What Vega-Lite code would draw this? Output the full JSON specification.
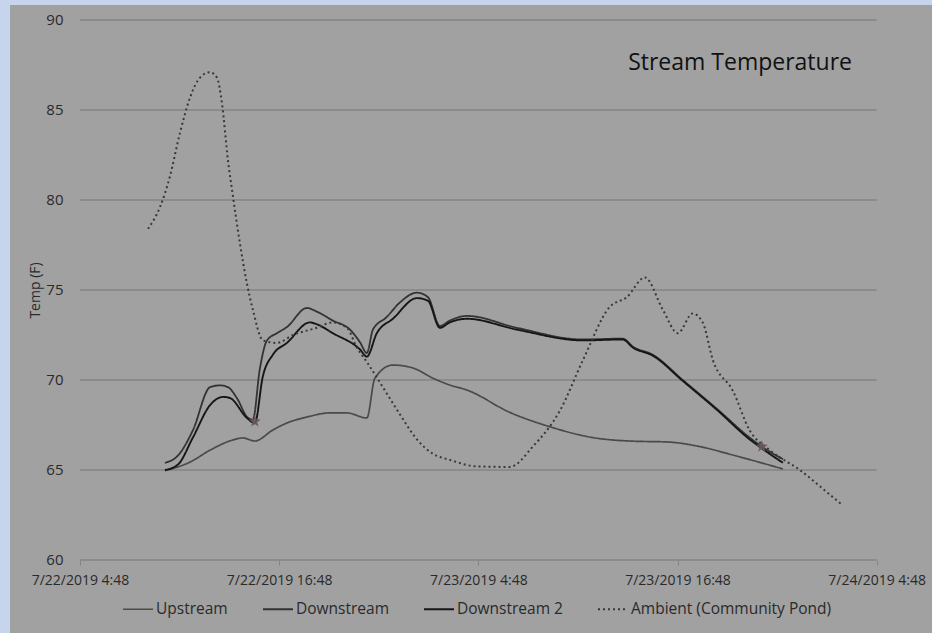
{
  "$schema": "https://vega.github.io/schema/vega-lite/v6.json",
  "width": 922,
  "height": 628,
  "autosize": "none",
  "padding": {"left": 10, "top": 5, "right": 0, "bottom": 0},
  "background": "#c6d5ec",
  "config": {
    "view": {"fill": "#a1a1a1", "stroke": null},
    "font": "Open Sans"
  },
  "title": {
    "text": "Stream Temperature",
    "anchor": "end",
    "orient": "top",
    "frame": "group",
    "baseline": "alphabetic",
    "offset": 0,
    "dx": -80,
    "dy": 88,
    "fontSize": 23,
    "fontWeight": "normal",
    "font": "Open Sans",
    "color": "#111111"
  },
  "datasets": {
    "grid": [
      {"v": 60, "start": "2019-07-22T04:48", "end": "2019-07-24T04:48"},
      {"v": 65, "start": "2019-07-22T04:48", "end": "2019-07-24T04:48"},
      {"v": 70, "start": "2019-07-22T04:48", "end": "2019-07-24T04:48"},
      {"v": 75, "start": "2019-07-22T04:48", "end": "2019-07-24T04:48"},
      {"v": 80, "start": "2019-07-22T04:48", "end": "2019-07-24T04:48"},
      {"v": 85, "start": "2019-07-22T04:48", "end": "2019-07-24T04:48"},
      {"v": 90, "start": "2019-07-22T04:48", "end": "2019-07-24T04:48"}
    ],
    "stars": [
      {"time": "2019-07-22T15:20", "temp": 67.7},
      {"time": "2019-07-23T21:53", "temp": 66.3}
    ],
    "temps": [
      {"series": "Upstream", "time": "2019-07-22T09:55", "temp": 64.96},
      {"series": "Upstream", "time": "2019-07-22T11:26", "temp": 65.44},
      {"series": "Upstream", "time": "2019-07-22T12:38", "temp": 66.1},
      {"series": "Upstream", "time": "2019-07-22T14:01", "temp": 66.67},
      {"series": "Upstream", "time": "2019-07-22T14:37", "temp": 66.78},
      {"series": "Upstream", "time": "2019-07-22T15:20", "temp": 66.61},
      {"series": "Upstream", "time": "2019-07-22T16:25", "temp": 67.22},
      {"series": "Upstream", "time": "2019-07-22T17:16", "temp": 67.61},
      {"series": "Upstream", "time": "2019-07-22T18:28", "temp": 67.94},
      {"series": "Upstream", "time": "2019-07-22T19:51", "temp": 68.17},
      {"series": "Upstream", "time": "2019-07-22T20:53", "temp": 68.17},
      {"series": "Upstream", "time": "2019-07-22T22:05", "temp": 67.89},
      {"series": "Upstream", "time": "2019-07-22T22:34", "temp": 70.1},
      {"series": "Upstream", "time": "2019-07-22T23:39", "temp": 70.83},
      {"series": "Upstream", "time": "2019-07-23T00:51", "temp": 70.67},
      {"series": "Upstream", "time": "2019-07-23T02:04", "temp": 70.1},
      {"series": "Upstream", "time": "2019-07-23T03:05", "temp": 69.72},
      {"series": "Upstream", "time": "2019-07-23T04:07", "temp": 69.44},
      {"series": "Upstream", "time": "2019-07-23T06:42", "temp": 68.2},
      {"series": "Upstream", "time": "2019-07-23T09:07", "temp": 67.4},
      {"series": "Upstream", "time": "2019-07-23T11:42", "temp": 66.8},
      {"series": "Upstream", "time": "2019-07-23T14:07", "temp": 66.6},
      {"series": "Upstream", "time": "2019-07-23T16:09", "temp": 66.56},
      {"series": "Upstream", "time": "2019-07-23T18:09", "temp": 66.3},
      {"series": "Upstream", "time": "2019-07-23T20:08", "temp": 65.83},
      {"series": "Upstream", "time": "2019-07-23T23:09", "temp": 65.06},

      {"series": "Downstream", "time": "2019-07-22T09:55", "temp": 65.4},
      {"series": "Downstream", "time": "2019-07-22T10:42", "temp": 65.8},
      {"series": "Downstream", "time": "2019-07-22T11:36", "temp": 67.2},
      {"series": "Downstream", "time": "2019-07-22T12:38", "temp": 69.6},
      {"series": "Downstream", "time": "2019-07-22T13:14", "temp": 69.7},
      {"series": "Downstream", "time": "2019-07-22T13:43", "temp": 69.6},
      {"series": "Downstream", "time": "2019-07-22T14:15", "temp": 69.0},
      {"series": "Downstream", "time": "2019-07-22T14:55", "temp": 67.9},
      {"series": "Downstream", "time": "2019-07-22T15:13", "temp": 67.8},
      {"series": "Downstream", "time": "2019-07-22T15:38", "temp": 70.6},
      {"series": "Downstream", "time": "2019-07-22T16:04", "temp": 72.2},
      {"series": "Downstream", "time": "2019-07-22T16:40", "temp": 72.6},
      {"series": "Downstream", "time": "2019-07-22T17:16", "temp": 72.94},
      {"series": "Downstream", "time": "2019-07-22T18:28", "temp": 74.0},
      {"series": "Downstream", "time": "2019-07-22T19:04", "temp": 73.8},
      {"series": "Downstream", "time": "2019-07-22T20:02", "temp": 73.3},
      {"series": "Downstream", "time": "2019-07-22T21:04", "temp": 72.8},
      {"series": "Downstream", "time": "2019-07-22T21:40", "temp": 72.1},
      {"series": "Downstream", "time": "2019-07-22T22:05", "temp": 71.5},
      {"series": "Downstream", "time": "2019-07-22T22:27", "temp": 72.8},
      {"series": "Downstream", "time": "2019-07-22T23:17", "temp": 73.5},
      {"series": "Downstream", "time": "2019-07-23T00:04", "temp": 74.3},
      {"series": "Downstream", "time": "2019-07-23T01:06", "temp": 74.85},
      {"series": "Downstream", "time": "2019-07-23T01:46", "temp": 74.6},
      {"series": "Downstream", "time": "2019-07-23T02:29", "temp": 73.0},
      {"series": "Downstream", "time": "2019-07-23T03:05", "temp": 73.3},
      {"series": "Downstream", "time": "2019-07-23T04:07", "temp": 73.56},
      {"series": "Downstream", "time": "2019-07-23T07:07", "temp": 72.9},
      {"series": "Downstream", "time": "2019-07-23T11:06", "temp": 72.25},
      {"series": "Downstream", "time": "2019-07-23T13:30", "temp": 72.3},
      {"series": "Downstream", "time": "2019-07-23T14:07", "temp": 71.85},
      {"series": "Downstream", "time": "2019-07-23T15:19", "temp": 71.4},
      {"series": "Downstream", "time": "2019-07-23T17:07", "temp": 70.0},
      {"series": "Downstream", "time": "2019-07-23T19:10", "temp": 68.4},
      {"series": "Downstream", "time": "2019-07-23T21:09", "temp": 66.8},
      {"series": "Downstream", "time": "2019-07-23T21:53", "temp": 66.3},
      {"series": "Downstream", "time": "2019-07-23T23:09", "temp": 65.6},

      {"series": "Downstream 2", "time": "2019-07-22T09:55", "temp": 65.0},
      {"series": "Downstream 2", "time": "2019-07-22T10:42", "temp": 65.3},
      {"series": "Downstream 2", "time": "2019-07-22T11:36", "temp": 66.8},
      {"series": "Downstream 2", "time": "2019-07-22T12:38", "temp": 68.6},
      {"series": "Downstream 2", "time": "2019-07-22T13:25", "temp": 69.06},
      {"series": "Downstream 2", "time": "2019-07-22T13:50", "temp": 69.0},
      {"series": "Downstream 2", "time": "2019-07-22T14:51", "temp": 67.9},
      {"series": "Downstream 2", "time": "2019-07-22T15:20", "temp": 67.6},
      {"series": "Downstream 2", "time": "2019-07-22T15:49", "temp": 70.2},
      {"series": "Downstream 2", "time": "2019-07-22T16:25", "temp": 71.4},
      {"series": "Downstream 2", "time": "2019-07-22T17:16", "temp": 72.06},
      {"series": "Downstream 2", "time": "2019-07-22T18:39", "temp": 73.2},
      {"series": "Downstream 2", "time": "2019-07-22T19:04", "temp": 73.1},
      {"series": "Downstream 2", "time": "2019-07-22T20:02", "temp": 72.6},
      {"series": "Downstream 2", "time": "2019-07-22T21:40", "temp": 71.7},
      {"series": "Downstream 2", "time": "2019-07-22T22:05", "temp": 71.3},
      {"series": "Downstream 2", "time": "2019-07-22T22:41", "temp": 72.6},
      {"series": "Downstream 2", "time": "2019-07-22T23:39", "temp": 73.4},
      {"series": "Downstream 2", "time": "2019-07-23T01:06", "temp": 74.55},
      {"series": "Downstream 2", "time": "2019-07-23T01:46", "temp": 74.4},
      {"series": "Downstream 2", "time": "2019-07-23T02:29", "temp": 72.9},
      {"series": "Downstream 2", "time": "2019-07-23T03:05", "temp": 73.2},
      {"series": "Downstream 2", "time": "2019-07-23T04:07", "temp": 73.4},
      {"series": "Downstream 2", "time": "2019-07-23T07:07", "temp": 72.8},
      {"series": "Downstream 2", "time": "2019-07-23T11:06", "temp": 72.2},
      {"series": "Downstream 2", "time": "2019-07-23T13:30", "temp": 72.25},
      {"series": "Downstream 2", "time": "2019-07-23T14:07", "temp": 71.8},
      {"series": "Downstream 2", "time": "2019-07-23T15:19", "temp": 71.35},
      {"series": "Downstream 2", "time": "2019-07-23T17:07", "temp": 69.95},
      {"series": "Downstream 2", "time": "2019-07-23T19:10", "temp": 68.35},
      {"series": "Downstream 2", "time": "2019-07-23T21:09", "temp": 66.7},
      {"series": "Downstream 2", "time": "2019-07-23T21:53", "temp": 66.2},
      {"series": "Downstream 2", "time": "2019-07-23T23:09", "temp": 65.4},

      {"series": "Ambient (Community Pond)", "time": "2019-07-22T08:54", "temp": 78.4},
      {"series": "Ambient (Community Pond)", "time": "2019-07-22T09:37", "temp": 79.6},
      {"series": "Ambient (Community Pond)", "time": "2019-07-22T10:13", "temp": 81.3},
      {"series": "Ambient (Community Pond)", "time": "2019-07-22T10:49", "temp": 83.7},
      {"series": "Ambient (Community Pond)", "time": "2019-07-22T11:26", "temp": 85.7},
      {"series": "Ambient (Community Pond)", "time": "2019-07-22T12:02", "temp": 86.8},
      {"series": "Ambient (Community Pond)", "time": "2019-07-22T12:38", "temp": 87.1},
      {"series": "Ambient (Community Pond)", "time": "2019-07-22T13:03", "temp": 86.8},
      {"series": "Ambient (Community Pond)", "time": "2019-07-22T13:21", "temp": 85.4},
      {"series": "Ambient (Community Pond)", "time": "2019-07-22T13:43", "temp": 82.2},
      {"series": "Ambient (Community Pond)", "time": "2019-07-22T14:01", "temp": 80.2},
      {"series": "Ambient (Community Pond)", "time": "2019-07-22T14:26", "temp": 77.6},
      {"series": "Ambient (Community Pond)", "time": "2019-07-22T14:51", "temp": 75.4},
      {"series": "Ambient (Community Pond)", "time": "2019-07-22T15:13", "temp": 73.9},
      {"series": "Ambient (Community Pond)", "time": "2019-07-22T15:49", "temp": 72.2},
      {"series": "Ambient (Community Pond)", "time": "2019-07-22T16:40", "temp": 72.06},
      {"series": "Ambient (Community Pond)", "time": "2019-07-22T17:38", "temp": 72.5},
      {"series": "Ambient (Community Pond)", "time": "2019-07-22T19:04", "temp": 72.9},
      {"series": "Ambient (Community Pond)", "time": "2019-07-22T20:02", "temp": 73.2},
      {"series": "Ambient (Community Pond)", "time": "2019-07-22T20:53", "temp": 72.9},
      {"series": "Ambient (Community Pond)", "time": "2019-07-22T21:29", "temp": 71.8},
      {"series": "Ambient (Community Pond)", "time": "2019-07-22T22:05", "temp": 71.0},
      {"series": "Ambient (Community Pond)", "time": "2019-07-22T23:03", "temp": 69.6},
      {"series": "Ambient (Community Pond)", "time": "2019-07-23T00:04", "temp": 68.1},
      {"series": "Ambient (Community Pond)", "time": "2019-07-23T01:06", "temp": 66.7},
      {"series": "Ambient (Community Pond)", "time": "2019-07-23T02:04", "temp": 65.9},
      {"series": "Ambient (Community Pond)", "time": "2019-07-23T03:05", "temp": 65.56},
      {"series": "Ambient (Community Pond)", "time": "2019-07-23T04:43", "temp": 65.2},
      {"series": "Ambient (Community Pond)", "time": "2019-07-23T06:42", "temp": 65.17},
      {"series": "Ambient (Community Pond)", "time": "2019-07-23T08:05", "temp": 66.3},
      {"series": "Ambient (Community Pond)", "time": "2019-07-23T09:43", "temp": 68.3},
      {"series": "Ambient (Community Pond)", "time": "2019-07-23T11:06", "temp": 71.1},
      {"series": "Ambient (Community Pond)", "time": "2019-07-23T12:43", "temp": 74.06},
      {"series": "Ambient (Community Pond)", "time": "2019-07-23T13:45", "temp": 74.6},
      {"series": "Ambient (Community Pond)", "time": "2019-07-23T14:50", "temp": 75.7},
      {"series": "Ambient (Community Pond)", "time": "2019-07-23T15:55", "temp": 73.9},
      {"series": "Ambient (Community Pond)", "time": "2019-07-23T16:49", "temp": 72.6},
      {"series": "Ambient (Community Pond)", "time": "2019-07-23T17:43", "temp": 73.7},
      {"series": "Ambient (Community Pond)", "time": "2019-07-23T18:19", "temp": 73.2},
      {"series": "Ambient (Community Pond)", "time": "2019-07-23T18:56", "temp": 71.1},
      {"series": "Ambient (Community Pond)", "time": "2019-07-23T20:08", "temp": 69.4},
      {"series": "Ambient (Community Pond)", "time": "2019-07-23T21:09", "temp": 67.2},
      {"series": "Ambient (Community Pond)", "time": "2019-07-23T22:22", "temp": 66.1},
      {"series": "Ambient (Community Pond)", "time": "2019-07-24T00:10", "temp": 65.0},
      {"series": "Ambient (Community Pond)", "time": "2019-07-24T02:09", "temp": 63.5},
      {"series": "Ambient (Community Pond)", "time": "2019-07-24T02:45", "temp": 63.05}
    ]
  },
  "resolve": {"scale": {"x": "shared", "y": "shared"}},
  "layer": [
    {
      "data": {"name": "grid"},
      "mark": {"type": "rule", "color": "#848484", "strokeWidth": 1.3},
      "encoding": {
        "x": {"field": "start", "type": "temporal", "scale": {"domain": ["2019-07-22T00:35", "2019-07-24T08:08"]},
          "axis": {
            "offset": -73,
            "orient": "bottom",
            "title": null,
            "grid": false,
            "domain": false,
            "ticks": true,
            "tickSize": 5,
            "tickColor": "#848484",
            "values": [
              {"year": 2019, "month": 7, "date": 22, "hours": 4, "minutes": 48},
              {"year": 2019, "month": 7, "date": 22, "hours": 16, "minutes": 48},
              {"year": 2019, "month": 7, "date": 23, "hours": 4, "minutes": 48},
              {"year": 2019, "month": 7, "date": 23, "hours": 16, "minutes": 48},
              {"year": 2019, "month": 7, "date": 24, "hours": 4, "minutes": 48}
            ],
            "format": "%-m/%-d/%Y %-H:%M",
            "formatType": "time",
            "labelFont": "Open Sans",
            "labelFontSize": 14,
            "labelColor": "#2a2a2a",
            "labelPadding": 8,
            "labelOverlap": false,
            "labelFlush": false,
            "labelBound": false
          }},
        "x2": {"field": "end"},
        "y": {"field": "v", "type": "quantitative",
          "scale": {"domain": [55.944, 90.833], "nice": false, "zero": false},
          "axis": {
            "offset": -70,
            "values": [60, 65, 70, 75, 80, 85, 90],
            "grid": false,
            "domain": false,
            "ticks": false,
            "labelFont": "Open Sans",
            "labelFontSize": 15,
            "labelColor": "#2a2a2a",
            "labelPadding": 17,
            "title": "Temp (F)",
            "titleFont": "Open Sans",
            "titleFontSize": 14,
            "titleFontWeight": "normal",
            "titleColor": "#2a2a2a",
            "titleX": -45,
            "titleY": 285,
            "titleAngle": -90,
            "titleAlign": "center",
            "titleBaseline": "middle"
          }}
      }
    },
    {
      "data": {"name": "temps"},
      "mark": {"type": "line", "interpolate": "monotone"},
      "encoding": {
        "x": {"field": "time", "type": "temporal"},
        "y": {"field": "temp", "type": "quantitative"},
        "color": {
          "field": "series", "type": "nominal",
          "scale": {
            "domain": ["Upstream", "Downstream", "Downstream 2", "Ambient (Community Pond)"],
            "range": ["#4a4a4a", "#333333", "#161616", "#383838"]
          },
          "legend": {
            "title": null,
            "orient": "none",
            "direction": "horizontal",
            "legendX": 112,
            "legendY": 588,
            "symbolType": "stroke",
            "symbolSize": 900,
            "symbolStrokeWidth": 2,
            "labelFont": "Open Sans",
            "labelFontSize": 15.5,
            "labelColor": "#2a2a2a",
            "labelOffset": 2,
            "labelLimit": 400,
            "columnPadding": 31
          }
        },
        "strokeDash": {
          "field": "series", "type": "nominal",
          "scale": {
            "domain": ["Upstream", "Downstream", "Downstream 2", "Ambient (Community Pond)"],
            "range": [[1, 0], [1, 0], [1, 0], [2, 3]]
          },
          "legend": null
        },
        "strokeWidth": {
          "field": "series", "type": "nominal",
          "scale": {
            "domain": ["Upstream", "Downstream", "Downstream 2", "Ambient (Community Pond)"],
            "range": [1.7, 2, 2.4, 2.2]
          },
          "legend": null
        }
      }
    },
    {
      "data": {"name": "stars"},
      "mark": {
        "type": "point",
        "filled": true,
        "shape": "M0,-1L0.24,-0.33L0.95,-0.31L0.38,0.12L0.59,0.81L0,0.4L-0.59,0.81L-0.38,0.12L-0.95,-0.31L-0.24,-0.33Z",
        "size": 160,
        "color": "#6a5656",
        "opacity": 0.95
      },
      "encoding": {
        "x": {"field": "time", "type": "temporal"},
        "y": {"field": "temp", "type": "quantitative"}
      }
    }
  ]
}
